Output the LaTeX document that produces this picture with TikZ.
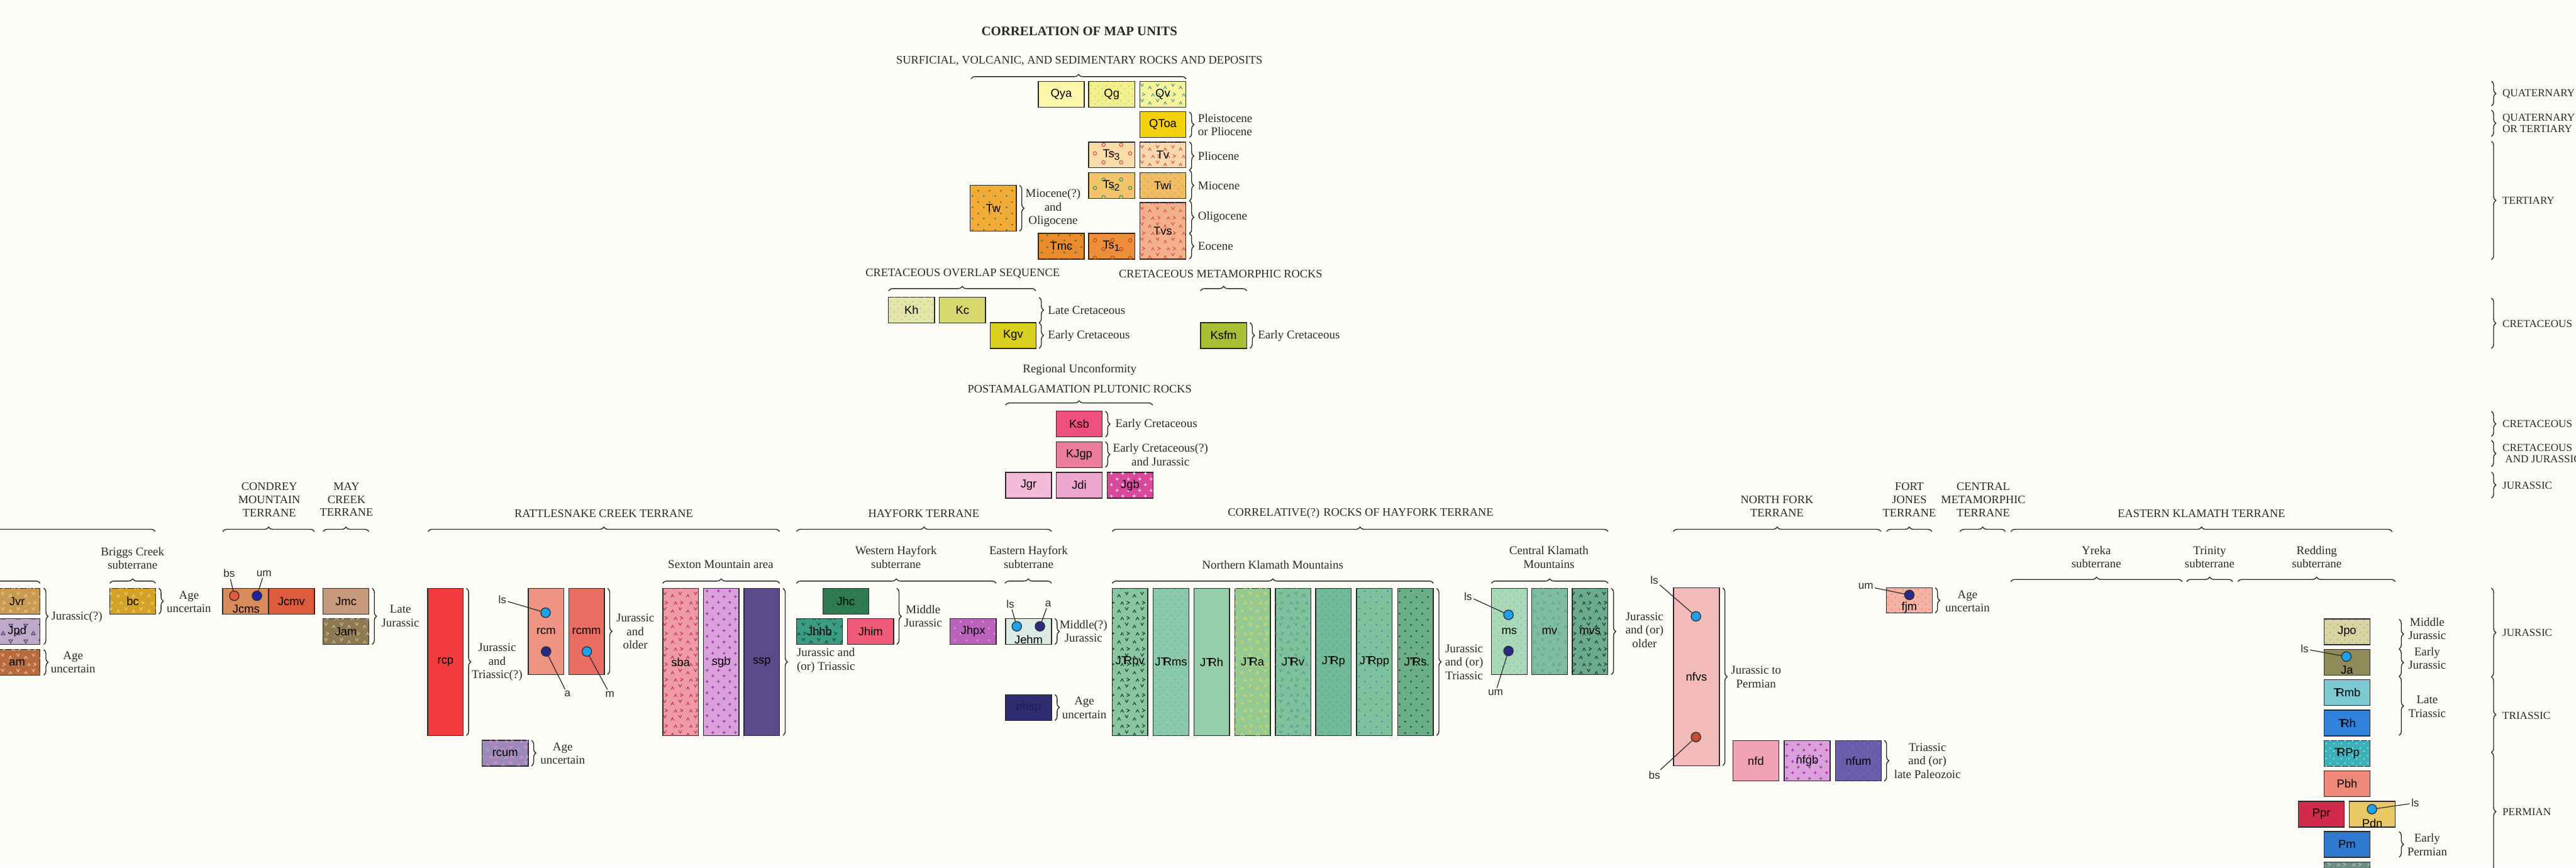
\documentclass[tikz,border=0pt]{standalone}
\usepackage{fontspec}
\setmainfont{Liberation Serif}
\setsansfont{Liberation Sans}
\usepackage{xcolor}
\usetikzlibrary{patterns, decorations.pathreplacing}
\definecolor{paper}{HTML}{FCFBF5}
\definecolor{ink}{HTML}{2A2A2A}
\definecolor{lsblue}{HTML}{1FA0EA}
\definecolor{umnavy}{HTML}{2B2A86}
\definecolor{bsred}{HTML}{C1502F}
\definecolor{cQya}{HTML}{FBF6A9}
\definecolor{cQg}{HTML}{F2F08C}\definecolor{pQg}{HTML}{A8A850}
\definecolor{cQv}{HTML}{F6F39A}\definecolor{pQv}{HTML}{3F9FA0}
\definecolor{cQToa}{HTML}{F4D10A}
\definecolor{cTsc}{HTML}{F9DDA8}\definecolor{pTsc}{HTML}{D9474A}
\definecolor{cTv}{HTML}{F8D8AC}\definecolor{pTv}{HTML}{D8544C}
\definecolor{cTsb}{HTML}{F3C56A}\definecolor{pTsb}{HTML}{3C8C5C}
\definecolor{cTwi}{HTML}{F0BC64}\definecolor{pTwi}{HTML}{B98B2E}
\definecolor{cTw}{HTML}{F2AC36}\definecolor{pTw}{HTML}{2F7B52}
\definecolor{cTvs}{HTML}{F4B08C}\definecolor{pTvs}{HTML}{D8503F}
\definecolor{cTmc}{HTML}{EB8C2C}\definecolor{pTmc}{HTML}{3D6B33}
\definecolor{cTsa}{HTML}{EC8E3A}\definecolor{pTsa}{HTML}{B54A1A}
\definecolor{cKh}{HTML}{E3E6A8}\definecolor{pKh}{HTML}{9FA565}
\definecolor{cKc}{HTML}{D6D86E}
\definecolor{cKgv}{HTML}{D9CF1E}
\definecolor{cKsfm}{HTML}{A7BF34}
\definecolor{cKsb}{HTML}{EF4F7C}
\definecolor{cKJgp}{HTML}{EC7C9B}
\definecolor{cJgr}{HTML}{F3BBD7}
\definecolor{cJdi}{HTML}{EBA5CE}
\definecolor{cJgb}{HTML}{D8499C}
\definecolor{cJvr}{HTML}{C99A52}\definecolor{pJvr}{HTML}{EBCB95}
\definecolor{cJpd}{HTML}{BFA9C9}\definecolor{pJpd}{HTML}{4F3F66}
\definecolor{cAm}{HTML}{B76A3D}\definecolor{pAm}{HTML}{EFC08E}
\definecolor{cBc}{HTML}{D3A126}\definecolor{pBc}{HTML}{F1D27A}
\definecolor{cJcms}{HTML}{D98B5C}
\definecolor{cJcmv}{HTML}{DD5C3D}
\definecolor{cJmc}{HTML}{C89A7D}
\definecolor{cJam}{HTML}{8D7A52}\definecolor{pJam}{HTML}{CDBB93}
\definecolor{cRcp}{HTML}{F33A3C}
\definecolor{cRcm}{HTML}{EE9484}
\definecolor{cRcmm}{HTML}{EA6D63}
\definecolor{cSba}{HTML}{EF9AA9}\definecolor{pSba}{HTML}{C33345}
\definecolor{cSgb}{HTML}{D9A0DC}\definecolor{pSgb}{HTML}{A02AA6}
\definecolor{cSsp}{HTML}{5B4B8A}
\definecolor{cRcum}{HTML}{9C8BBA}\definecolor{pRcum}{HTML}{E290C2}
\definecolor{cJhc}{HTML}{2E7B52}\definecolor{pJhc}{HTML}{1B5A3B}
\definecolor{cJhhb}{HTML}{3A9C82}\definecolor{pJhhb}{HTML}{1C4A3C}
\definecolor{cJhim}{HTML}{EE5A78}
\definecolor{cJhpx}{HTML}{BB62BB}\definecolor{pJhpx}{HTML}{F29AD6}
\definecolor{cJehm}{HTML}{D9EBE2}
\definecolor{cEhsp}{HTML}{2D2D72}\definecolor{tEhsp}{HTML}{1E1E52}
\definecolor{cJTRpv}{HTML}{88C5A1}\definecolor{pJTRpv}{HTML}{1B3B2B}
\definecolor{cJTRms}{HTML}{8AC9A9}\definecolor{pJTRms}{HTML}{5FA584}
\definecolor{cJTRh}{HTML}{95CEAA}
\definecolor{cJTRa}{HTML}{95C992}\definecolor{pJTRa}{HTML}{DADA5E}
\definecolor{cJTRv}{HTML}{7EC19C}\definecolor{pJTRv}{HTML}{4CA384}
\definecolor{cJTRp}{HTML}{72B996}\definecolor{pJTRp}{HTML}{3A8E98}
\definecolor{cJTRpp}{HTML}{7EC29C}\definecolor{pJTRpp}{HTML}{3A8AB0}
\definecolor{cJTRs}{HTML}{6BAF86}\definecolor{pJTRs}{HTML}{1D4B2C}
\definecolor{cMs}{HTML}{AAD9BA}\definecolor{pMs}{HTML}{6FAE8E}
\definecolor{cMv}{HTML}{80BCA0}\definecolor{pMv}{HTML}{5BA293}
\definecolor{cMvs}{HTML}{6BAB8B}\definecolor{pMvs}{HTML}{1B3B2B}
\definecolor{cNfvs}{HTML}{F3BABA}
\definecolor{cNfd}{HTML}{F1A3B3}
\definecolor{cNfgb}{HTML}{D9A0DC}\definecolor{pNfgb}{HTML}{A02AA6}
\definecolor{cNfum}{HTML}{6B5BAB}\definecolor{pNfum}{HTML}{8A7AC4}
\definecolor{cFjm}{HTML}{F5B2A2}\definecolor{pFjm}{HTML}{C46565}
\definecolor{cJpo}{HTML}{D9D5A2}\definecolor{pJpo}{HTML}{8B8B5B}
\definecolor{cJa}{HTML}{8F8B59}
\definecolor{cTRmb}{HTML}{7CC9D1}
\definecolor{cTRh}{HTML}{2F81D9}
\definecolor{cTRPp}{HTML}{3BB1B9}
\definecolor{cPbh}{HTML}{EE8979}
\definecolor{cPpr}{HTML}{D12A4A}
\definecolor{cPdn}{HTML}{E7C862}
\definecolor{cPm}{HTML}{2F79D1}
\definecolor{cPlow}{HTML}{6E8E84}\definecolor{pPlow}{HTML}{A9C4BA}
\newcommand{\trsym}{T\kern-0.38em R}
\pgfdeclarepatternformonly{vmarks}{\pgfqpoint{-1pt}{-1pt}}{\pgfqpoint{9pt}{9pt}}{\pgfqpoint{8pt}{8pt}}{%
  \pgfsetlinewidth{0.35pt}%
  \pgfpathmoveto{\pgfqpoint{0.6pt}{7.2pt}}\pgfpathlineto{\pgfqpoint{1.4pt}{5.8pt}}\pgfpathlineto{\pgfqpoint{2.2pt}{7.2pt}}%
  \pgfpathmoveto{\pgfqpoint{4.6pt}{4.4pt}}\pgfpathlineto{\pgfqpoint{5.4pt}{5.8pt}}\pgfpathlineto{\pgfqpoint{6.2pt}{4.4pt}}%
  \pgfpathmoveto{\pgfqpoint{1.4pt}{0.8pt}}\pgfpathlineto{\pgfqpoint{2.8pt}{1.6pt}}\pgfpathlineto{\pgfqpoint{1.4pt}{2.4pt}}%
  \pgfpathmoveto{\pgfqpoint{6.2pt}{0.6pt}}\pgfpathlineto{\pgfqpoint{7pt}{2pt}}\pgfpathlineto{\pgfqpoint{7.8pt}{0.6pt}}%
  \pgfusepath{stroke}}
\pgfdeclarepatternformonly{pluses}{\pgfqpoint{0pt}{0pt}}{\pgfqpoint{6pt}{6pt}}{\pgfqpoint{6pt}{6pt}}{%
  \pgfsetlinewidth{0.35pt}%
  \pgfpathmoveto{\pgfqpoint{1pt}{1.5pt}}\pgfpathlineto{\pgfqpoint{2.6pt}{1.5pt}}%
  \pgfpathmoveto{\pgfqpoint{1.8pt}{0.7pt}}\pgfpathlineto{\pgfqpoint{1.8pt}{2.3pt}}%
  \pgfpathmoveto{\pgfqpoint{4pt}{4.5pt}}\pgfpathlineto{\pgfqpoint{5.6pt}{4.5pt}}%
  \pgfpathmoveto{\pgfqpoint{4.8pt}{3.7pt}}\pgfpathlineto{\pgfqpoint{4.8pt}{5.3pt}}%
  \pgfusepath{stroke}}
\pgfdeclarepatternformonly{rings}{\pgfqpoint{0pt}{0pt}}{\pgfqpoint{9pt}{9pt}}{\pgfqpoint{9pt}{9pt}}{%
  \pgfsetlinewidth{0.35pt}%
  \pgfpathcircle{\pgfqpoint{2pt}{2pt}}{0.9pt}%
  \pgfpathcircle{\pgfqpoint{6.5pt}{6.5pt}}{0.9pt}%
  \pgfusepath{stroke}}
\pgfdeclarepatternformonly{specks}{\pgfqpoint{0pt}{0pt}}{\pgfqpoint{4pt}{4pt}}{\pgfqpoint{4pt}{4pt}}{%
  \pgfpathcircle{\pgfqpoint{1pt}{1pt}}{0.3pt}%
  \pgfpathcircle{\pgfqpoint{3pt}{2.6pt}}{0.3pt}%
  \pgfusepath{fill}}
\pgfdeclarepatternformonly{bigdots}{\pgfqpoint{0pt}{0pt}}{\pgfqpoint{6pt}{6pt}}{\pgfqpoint{6pt}{6pt}}{%
  \pgfpathcircle{\pgfqpoint{1.5pt}{1.5pt}}{0.5pt}%
  \pgfpathcircle{\pgfqpoint{4.5pt}{4.3pt}}{0.5pt}%
  \pgfusepath{fill}}
\pgfdeclarepatternformonly{tris}{\pgfqpoint{0pt}{0pt}}{\pgfqpoint{8pt}{8pt}}{\pgfqpoint{8pt}{8pt}}{%
  \pgfsetlinewidth{0.35pt}%
  \pgfpathmoveto{\pgfqpoint{1pt}{1pt}}\pgfpathlineto{\pgfqpoint{3pt}{1pt}}\pgfpathlineto{\pgfqpoint{2pt}{2.7pt}}\pgfpathclose
  \pgfpathmoveto{\pgfqpoint{5pt}{6.5pt}}\pgfpathlineto{\pgfqpoint{7pt}{6.5pt}}\pgfpathlineto{\pgfqpoint{6pt}{4.8pt}}\pgfpathclose
  \pgfusepath{stroke}}

\begin{document}
\begin{tikzpicture}[
    x=0.3mm, y=-0.3mm,
    mapunit/.style={draw=ink, line width=0.45pt, inner sep=0pt, minimum width=8.4mm, minimum height=4.7mm, font=\sffamily\fontsize{6}{7}\selectfont},
    tallunit/.style={mapunit, minimum width=6.5mm, minimum height=26.85mm},
    pat/.style 2 args={postaction={pattern=#1, pattern color=#2}},
    spot/.style={circle, draw=ink, line width=0.4pt, minimum size=1.75mm, inner sep=0pt},
    lbl/.style={font=\sffamily\fontsize{5.6}{6}\selectfont, inner sep=0.6pt, text=ink},
    ulbl/.style={font=\sffamily\fontsize{6}{7}\selectfont, inner sep=0pt},
    lead/.style={draw=ink, line width=0.4pt},
    age/.style={font=\fontsize{6.2}{7}\selectfont, align=center, inner sep=0pt, text=ink},
    hdr/.style={font=\fontsize{6}{6.8}\selectfont, align=center, inner sep=0pt, text=ink},
    per/.style={font=\fontsize{5.6}{5.6}\selectfont, align=left, anchor=west, inner sep=0pt, text=ink},
    brc/.style={draw=ink, line width=0.45pt, decorate, decoration={brace, amplitude=2.3pt}},
]

\useasboundingbox (0,0) rectangle (1568,528);
\fill[paper] (0,0) rectangle (1568,528);

\node[hdr, font=\bfseries\fontsize{6.8}{8}\selectfont] (title) at (657,19) {CORRELATION OF MAP UNITS};
\node[hdr] (surf) at (657,37) {SURFICIAL, VOLCANIC, AND SEDIMENTARY ROCKS AND DEPOSITS};
\draw[brc] (591,48) -- (722,48);

\node[mapunit, fill=cQya] (qya) at (646,57.4) {Qya};
\node[mapunit, fill=cQg, pat={specks}{pQg}] (qg) at (676.7,57.4) {Qg};
\node[mapunit, fill=cQv, pat={vmarks}{pQv}] (qv) at (707.8,57.4) {Qv};
\node[mapunit, fill=cQToa] (qtoa) at (707.8,75.9) {QToa};
\node[mapunit, fill=cTsc, pat={rings}{pTsc}] (tsc) at (676.7,94.3) {Ts\textsubscript{3}};
\node[mapunit, fill=cTv, pat={vmarks}{pTv}] (tv) at (707.8,94.3) {Tv};
\node[mapunit, fill=cTsb, pat={rings}{pTsb}] (tsb) at (676.7,112.9) {Ts\textsubscript{2}};
\node[mapunit, fill=cTwi, pat={specks}{pTwi}] (twi) at (707.8,112.9) {Twi};
\node[mapunit, fill=cTw, pat={bigdots}{pTw}, minimum height=8.4mm] (tw) at (604.6,126.8) {Tw};
\node[mapunit, fill=cTvs, pat={vmarks}{pTvs}, minimum height=10.3mm] (tvs) at (707.8,140.5) {Tvs};
\node[mapunit, fill=cTmc, pat={bigdots}{pTmc}] (tmc) at (646,149.9) {Tmc};
\node[mapunit, fill=cTsa, pat={rings}{pTsa}] (tsa) at (676.7,149.9) {Ts\textsubscript{1}};

\draw[brc] (724,68.2) -- (724,83.6);
\draw[brc] (724,86.4) -- (724,103.6);
\draw[brc] (724,103.6) -- (724,122.2);
\draw[brc] (724,122.2) -- (724,142.1);
\draw[brc] (724,142.1) -- (724,157.6);
\draw[brc] (620.6,112.8) -- (620.6,140.7);
\node[age, anchor=west, align=left] (pleis) at (729,75.9) {Pleistocene\\or Pliocene};
\node[age, anchor=west] (plio) at (729,95) {Pliocene};
\node[age, anchor=west] (mio) at (729,112.9) {Miocene};
\node[age, anchor=west] (oligo) at (729,132.2) {Oligocene};
\node[age, anchor=west] (eoc) at (729,149.9) {Eocene};
\node[age] (twage) at (641,126.6) {Miocene(?)\\and\\Oligocene};

\node[hdr] (kover) at (586,166.6) {CRETACEOUS OVERLAP SEQUENCE};
\draw[brc] (540.9,177) -- (630.5,177);
\node[mapunit, fill=cKh, pat={specks}{pKh}] (kh) at (554.8,188.7) {Kh};
\node[mapunit, fill=cKc] (kc) at (585.8,188.7) {Kc};
\node[mapunit, fill=cKgv] (kgv) at (616.7,204.2) {Kgv};
\draw[brc] (632.5,181) -- (632.5,196.4);
\draw[brc] (632.5,196.4) -- (632.5,212);
\node[age, anchor=west] (latek) at (637.7,188.7) {Late Cretaceous};
\node[age, anchor=west] (earlyk) at (637.7,204.3) {Early Cretaceous};
\node[hdr] (kmeta) at (743,166.6) {CRETACEOUS METAMORPHIC ROCKS};
\draw[brc] (730.7,177) -- (758.9,177);
\node[mapunit, fill=cKsfm] (ksfm) at (744.8,204.2) {Ksfm};
\draw[brc] (760.9,196.4) -- (760.9,212);
\node[age, anchor=west] (earlykm) at (765.5,204.3) {Early Cretaceous};

\node[age] (unconf) at (657.2,225.2) {Regional Unconformity};
\node[hdr] (pluton) at (657.2,236.9) {POSTAMALGAMATION PLUTONIC ROCKS};
\draw[brc] (612,246.6) -- (701.7,246.6);
\node[mapunit, fill=cKsb] (ksb) at (656.9,258.1) {Ksb};
\node[mapunit, fill=cKJgp] (kjgp) at (656.9,276.7) {KJgp};
\node[mapunit, fill=cJgr] (jgr) at (626.1,295.3) {Jgr};
\node[mapunit, fill=cJdi] (jdi) at (656.9,295.3) {Jdi};
\node[mapunit, fill=cJgb, pat={pluses}{white}] (jgb) at (687.9,295.3) {Jgb};
\draw[brc] (672.9,250.3) -- (672.9,265.9);
\draw[brc] (672.9,268.9) -- (672.9,284.4);
\node[age, anchor=west] (earlykp) at (678.7,258.4) {Early Cretaceous};
\node[age] (kjage) at (706.4,276.8) {Early Cretaceous(?)\\and Jurassic};

\draw[brc] (1516.5,49.4) -- (1516.5,64.5);
\node[per] (quat) at (1523,57) {QUATERNARY};
\draw[brc] (1516.5,67) -- (1516.5,83);
\node[per] (quatt) at (1523,75) {QUATERNARY\\OR TERTIARY};
\draw[brc] (1516.5,86) -- (1516.5,158);
\node[per] (tert) at (1523,122) {TERTIARY};
\draw[brc] (1516.5,181.4) -- (1516.5,212);
\node[per] (creta) at (1523,197) {CRETACEOUS};
\draw[brc] (1516.5,250.4) -- (1516.5,265.6);
\node[per] (cretb) at (1523,258) {CRETACEOUS};
\draw[brc] (1516.5,268) -- (1516.5,284);
\node[per] (cretj) at (1523,276) {CRETACEOUS\\\hspace*{0.25em}AND JURASSIC};
\draw[brc] (1516.5,287.3) -- (1516.5,303.2);
\node[per] (jura) at (1523,295.5) {JURASSIC};
\draw[brc] (1516.5,358) -- (1516.5,412);
\node[per] (jurb) at (1523,385) {JURASSIC};
\draw[brc] (1516.5,412) -- (1516.5,458);
\node[per] (trias) at (1523,435.5) {TRIASSIC};
\draw[brc] (1516.5,458) -- (1516.5,530);
\node[per] (perm) at (1523,494) {PERMIAN};

\node[hdr] (condrey) at (163.9,304) {CONDREY\\MOUNTAIN\\TERRANE};
\node[hdr] (maycr) at (210.9,304) {MAY\\CREEK\\TERRANE};
\node[hdr] (rattle) at (367.5,312.5) {RATTLESNAKE CREEK TERRANE};
\node[hdr] (hayfork) at (562.3,312.5) {HAYFORK TERRANE};
\node[hdr] (correl) at (828.2,312.5) {CORRELATIVE(?) ROCKS OF HAYFORK TERRANE};
\node[hdr] (nfork) at (1081.6,308) {NORTH FORK\\TERRANE};
\node[hdr] (fjones) at (1162.2,304) {FORT\\JONES\\TERRANE};
\node[hdr] (cmeta) at (1207.2,304) {CENTRAL\\METAMORPHIC\\TERRANE};
\node[hdr] (eklam) at (1340,312.5) {EASTERN KLAMATH TERRANE};
\draw[brc] (-110,323.5) -- (94.5,323.5);
\draw[brc] (135.6,323.5) -- (191.4,323.5);
\draw[brc] (196.7,323.5) -- (224.5,323.5);
\draw[brc] (260.5,323.5) -- (474.6,323.5);
\draw[brc] (484.8,323.5) -- (640.1,323.5);
\draw[brc] (677,323.5) -- (978.8,323.5);
\draw[brc] (1018.5,323.5) -- (1145,323.5);
\draw[brc] (1148.3,323.5) -- (1176,323.5);
\draw[brc] (1193,323.5) -- (1220.7,323.5);
\draw[brc] (1224,323.5) -- (1456.1,323.5);

\node[age] (briggs) at (80.7,339.8) {Briggs Creek\\subterrane};
\node[age] (sexton) at (438.7,343.6) {Sexton Mountain area};
\node[age] (whay) at (545.4,339.2) {Western Hayfork\\subterrane};
\node[age] (ehay) at (626.1,339.2) {Eastern Hayfork\\subterrane};
\node[age] (nklam) at (774.7,343.6) {Northern Klamath Mountains};
\node[age] (cklam) at (942.8,339.2) {Central Klamath\\Mountains};
\node[age] (yreka) at (1276,339) {Yreka\\subterrane};
\node[age] (trinity) at (1345,339) {Trinity\\subterrane};
\node[age] (redding) at (1410.2,339) {Redding\\subterrane};
\draw[brc] (-40,355) -- (24.4,355);
\draw[brc] (66.8,355) -- (94.7,355);
\draw[brc] (403.4,355) -- (474.6,355);
\draw[brc] (484.8,355) -- (606.4,355);
\draw[brc] (611.7,355) -- (640.1,355);
\draw[brc] (677,355) -- (872.5,355);
\draw[brc] (907.8,355) -- (978.8,355);
\draw[brc] (1224,354) -- (1328.3,354);
\draw[brc] (1331,354) -- (1359,354);
\draw[brc] (1362.2,354) -- (1458,354);

\node[mapunit, fill=cJvr, pat={vmarks}{pJvr}] (jvr) at (10.4,365.9) {Jvr};
\node[mapunit, fill=cJpd, pat={tris}{pJpd}] (jpd) at (10.4,384.4) {Jpd};
\node[mapunit, fill=cAm, pat={vmarks}{pAm}] (am) at (10.4,403.2) {am};
\draw[brc] (26.6,358) -- (26.6,392.2);
\draw[brc] (26.6,395.4) -- (26.6,410.9);
\node[age, anchor=west] (jvrage) at (31,375.7) {Jurassic(?)};
\node[age] (amage) at (44.5,403) {Age\\uncertain};
\node[mapunit, fill=cBc, pat={vmarks}{pBc}] (bc) at (80.8,365.9) {bc};
\draw[brc] (96.7,358) -- (96.7,373.7);
\node[age] (bcage) at (115,366.2) {Age\\uncertain};

\node[mapunit, fill=cJcms] (jcms) at (149.5,365.9) {};
\node[mapunit, fill=cJcmv] (jcmv) at (177.4,365.9) {Jcmv};
\node[ulbl] (jcmsl) at (149.8,370.8) {Jcms};
\node[spot, fill=cJcmv] (jcmsbs) at (142.6,362.6) {};
\node[spot, fill=umnavy!80!blue] (jcmsum) at (156.4,362.6) {};
\node[lbl] (jcmsbst) at (139.5,349) {bs};
\node[lbl] (jcmsumt) at (160.7,349) {um};
\draw[lead] (jcmsbst) -- (jcmsbs);
\draw[lead] (jcmsumt) -- (jcmsum);
\node[mapunit, fill=cJmc] (jmc) at (210.6,365.9) {Jmc};
\node[mapunit, fill=cJam, pat={vmarks}{pJam}] (jam) at (210.6,384.4) {Jam};
\draw[brc] (226.5,358) -- (226.5,392.2);
\node[age] (jmcage) at (243.7,374.9) {Late\\Jurassic};

\node[tallunit, fill=cRcp] (rcp) at (271.2,402.9) {rcp};
\draw[brc] (283.9,358.1) -- (283.9,447.6);
\node[age] (rcpage) at (302.6,403.1) {Jurassic\\and\\Triassic(?)};
\node[tallunit, fill=cRcm, minimum height=15.7mm] (rcm) at (332.4,384.3) {rcm};
\node[tallunit, fill=cRcmm, minimum height=15.7mm] (rcmm) at (357,384.3) {rcmm};
\draw[brc] (369.8,358.1) -- (369.8,410.4);
\node[age] (rcmage) at (386.7,384.4) {Jurassic\\and\\older};
\node[spot, fill=lsblue] (rcmls) at (332.1,372.9) {};
\node[spot, fill=umnavy] (rcma) at (332.4,396.5) {};
\node[spot, fill=lsblue] (rcmmm) at (357.2,396.5) {};
\node[lbl] (rcmlst) at (305.8,365.1) {ls};
\node[lbl] (rcmat) at (345.4,422.4) {a};
\node[lbl] (rcmmmt) at (371.2,422.4) {m};
\draw[lead] (rcmlst) -- (rcmls);
\draw[lead] (rcmat) -- (rcma);
\draw[lead] (rcmmmt) -- (rcmmm);
\node[tallunit, fill=cSba, pat={vmarks}{pSba}] (sba) at (414.3,402.9) {sba};
\node[tallunit, fill=cSgb, pat={pluses}{pSgb}] (sgb) at (439,402.9) {sgb};
\node[tallunit, fill=cSsp] (ssp) at (463.7,402.9) {ssp};
\draw[brc] (476.6,358.1) -- (476.6,447.6);
\node[age, anchor=west, align=left] (sexage) at (484.8,401.9) {Jurassic and\\(or) Triassic};
\node[mapunit, fill=cRcum, pat={vmarks}{pRcum}] (rcum) at (307.5,458.4) {rcum};
\draw[brc] (323.5,450.5) -- (323.5,466.2);
\node[age] (rcumage) at (342.5,458.5) {Age\\uncertain};

\node[mapunit, fill=cJhc, pat={specks}{pJhc}] (jhc) at (514.8,365.9) {Jhc};
\node[mapunit, fill=cJhhb, pat={vmarks}{pJhhb}] (jhhb) at (498.8,384.4) {Jhhb};
\node[mapunit, fill=cJhim] (jhim) at (529.9,384.4) {Jhim};
\draw[brc] (545.9,358.1) -- (545.9,392.2);
\node[age] (jhage) at (561.9,375) {Middle\\Jurassic};
\node[mapunit, fill=cJhpx, pat={bigdots}{pJhpx}] (jhpx) at (592.3,384.4) {Jhpx};
\node[mapunit, fill=cJehm] (jehm) at (626.1,384.4) {};
\node[ulbl] (jehml) at (626.1,389.3) {Jehm};
\node[spot, fill=lsblue] (jehmls) at (618.9,381.2) {};
\node[spot, fill=umnavy] (jehma) at (633,381.2) {};
\node[lbl] (jehmlst) at (615,367.5) {ls};
\node[lbl] (jehmat) at (638,367.5) {a};
\draw[lead] (jehmlst) -- (jehmls);
\draw[lead] (jehmat) -- (jehma);
\draw[brc] (642.1,376.5) -- (642.1,392.2);
\node[age] (jehmage) at (659.5,384.1) {Middle(?)\\Jurassic};
\node[mapunit, fill=cEhsp, text=tEhsp] (ehsp) at (626.1,430.6) {ehsp};
\draw[brc] (642.1,422.7) -- (642.1,438.5);
\node[age] (ehspage) at (660,430.8) {Age\\uncertain};

\node[tallunit, fill=cJTRpv, pat={vmarks}{pJTRpv}] (jtrpv) at (687.8,402.9) {J\trsym pv};
\node[tallunit, fill=cJTRms, pat={specks}{pJTRms}] (jtrms) at (712.8,402.9) {J\trsym ms};
\node[tallunit, fill=cJTRh] (jtrh) at (737.5,402.9) {J\trsym h};
\node[tallunit, fill=cJTRa, pat={vmarks}{pJTRa}] (jtra) at (762.4,402.9) {J\trsym a};
\node[tallunit, fill=cJTRv, pat={vmarks}{pJTRv}] (jtrv) at (787.1,402.9) {J\trsym v};
\node[tallunit, fill=cJTRp, pat={specks}{pJTRp}] (jtrp) at (811.7,402.9) {J\trsym p};
\node[tallunit, fill=cJTRpp, pat={bigdots}{pJTRpp}] (jtrpp) at (836.6,402.9) {J\trsym pp};
\node[tallunit, fill=cJTRs, pat={bigdots}{pJTRs}] (jtrs) at (861.6,402.9) {J\trsym s};
\draw[brc] (874.5,358.1) -- (874.5,447.6);
\node[age] (jtrage) at (891.2,403) {Jurassic\\and (or)\\Triassic};
\node[tallunit, fill=cMs, pat={specks}{pMs}, minimum height=15.7mm] (ms) at (918.7,384.3) {ms};
\node[tallunit, fill=cMv, pat={vmarks}{pMv}, minimum height=15.7mm] (mv) at (943.2,384.3) {mv};
\node[tallunit, fill=cMvs, pat={vmarks}{pMvs}, minimum height=15.7mm] (mvs) at (967.8,384.3) {mvs};
\node[spot, fill=lsblue] (msls) at (918.2,374.2) {};
\node[spot, fill=umnavy] (msum) at (918.2,396.2) {};
\node[lbl] (mslst) at (893.6,362.9) {ls};
\node[lbl] (msumt) at (910.3,421.4) {um};
\draw[lead] (mslst) -- (msls);
\draw[lead] (msumt) -- (msum);
\draw[brc] (980.8,358.1) -- (980.8,410.6);
\node[age] (msage) at (1001,383.4) {Jurassic\\and (or)\\older};

\node[mapunit, fill=cNfvs, minimum height=32.5mm] (nfvs) at (1032.6,411.9) {nfvs};
\node[spot, fill=lsblue] (nfvsls) at (1032.3,375.1) {};
\node[spot, fill=bsred] (nfvsbs) at (1032.3,448.6) {};
\node[lbl] (nfvslst) at (1007,353.1) {ls};
\node[lbl] (nfvsbst) at (1007,471.9) {bs};
\draw[lead] (nfvslst) -- (nfvsls);
\draw[lead] (nfvsbst) -- (nfvsbs);
\draw[brc] (1048.6,357.8) -- (1048.6,466);
\node[age] (nfvsage) at (1068.9,412.1) {Jurassic to\\Permian};
\node[mapunit, fill=cNfd, minimum height=7.4mm] (nfd) at (1068.8,463) {nfd};
\node[mapunit, fill=cNfgb, pat={pluses}{pNfgb}, minimum height=7.4mm] (nfgb) at (1100,463) {nfgb};
\node[mapunit, fill=cNfum, pat={specks}{pNfum}, minimum height=7.4mm] (nfum) at (1131.2,463) {nfum};
\draw[brc] (1147,450.6) -- (1147,475.4);
\node[age] (nfage) at (1173.2,463.1) {Triassic\\and (or)\\late Paleozoic};

\node[mapunit, fill=cFjm, pat={specks}{pFjm}, minimum height=4.6mm] (fjm) at (1162.2,365.4) {};
\node[ulbl] (fjml) at (1162.2,369.8) {fjm};
\node[spot, fill=umnavy] (fjmum) at (1162.2,362.1) {};
\node[lbl] (fjmumt) at (1135.7,356.7) {um};
\draw[lead] (fjmumt) -- (fjmum);
\draw[brc] (1178,357.8) -- (1178,373);
\node[age] (fjmage) at (1197.6,365.8) {Age\\uncertain};

\node[mapunit, fill=cJpo, pat={specks}{pJpo}] (jpo) at (1428.6,384.5) {Jpo};
\node[mapunit, fill=cJa] (ja) at (1428.6,403) {};
\node[ulbl] (jal) at (1428.6,407.8) {Ja};
\node[spot, fill=lsblue] (jals) at (1428.2,399.6) {};
\node[lbl] (jalst) at (1402.8,395) {ls};
\draw[lead] (jalst) -- (jals);
\node[mapunit, fill=cTRmb] (trmb) at (1428.6,421.5) {\trsym mb};
\node[mapunit, fill=cTRh] (trh) at (1428.6,440.1) {\trsym h};
\node[mapunit, fill=cTRPp, pat={specks}{white}] (trpp) at (1428.6,458.6) {\trsym Pp};
\node[mapunit, fill=cPbh] (pbh) at (1428.6,477) {Pbh};
\node[mapunit, fill=cPpr] (ppr) at (1413,495.5) {Ppr};
\node[mapunit, fill=cPdn] (pdn) at (1444,495.5) {};
\node[ulbl] (pdnl) at (1444,500.9) {Pdn};
\node[spot, fill=lsblue] (pdnls) at (1443.8,492.5) {};
\node[lbl] (pdnlst) at (1470.1,488.7) {ls};
\draw[lead] (pdnlst) -- (pdnls);
\node[mapunit, fill=cPm] (pm) at (1428.6,513.9) {Pm};
\node[mapunit, fill=cPlow, pat={vmarks}{pPlow}] (plow) at (1428.6,532.5) {};
\draw[brc] (1460.3,376.9) -- (1460.3,395);
\draw[brc] (1460.3,395) -- (1460.3,411.7);
\draw[brc] (1460.3,411.7) -- (1460.3,447.6);
\draw[brc] (1460.3,506.1) -- (1460.3,521.7);
\node[age] (jpoage) at (1477.4,382.7) {Middle\\Jurassic};
\node[age] (jaage) at (1477.4,400.7) {Early\\Jurassic};
\node[age] (trage) at (1477.4,430) {Late\\Triassic};
\node[age] (pmage) at (1477.4,514.1) {Early\\Permian};

\end{tikzpicture}
\end{document}
